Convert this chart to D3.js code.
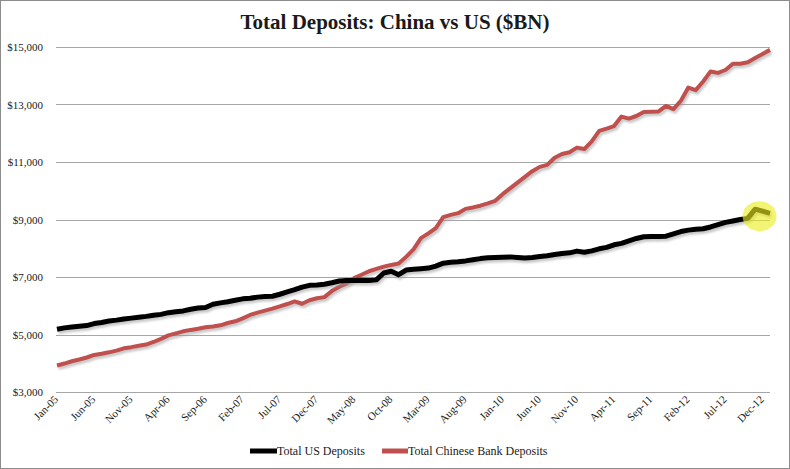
<!DOCTYPE html>
<html>
<head>
<meta charset="utf-8">
<script src="https://cdn.jsdelivr.net/npm/d3@7"></script>
<style>
  body { margin: 0; background: #fff; }
  svg text { font-family: "Liberation Serif", "DejaVu Serif", serif; fill: #1a1a1a; }
</style>
</head>
<body>
<div id="chart"></div>
<script>
// monthly data, Jan-05 .. Jan-13 ($BN)
var months = d3.timeMonths(new Date(2005, 0, 1), new Date(2013, 1, 1));

var usDeposits = [
  5180, 5230, 5260, 5290, 5310, 5380, 5420, 5470, 5500, 5540, 5570, 5600,
  5630, 5670, 5700, 5760, 5790, 5820, 5880, 5920, 5940, 6050, 6100, 6140,
  6190, 6240, 6260, 6300, 6320, 6330, 6400, 6480, 6560, 6650, 6710, 6720,
  6750, 6800, 6860, 6880, 6880, 6890, 6880, 6900, 7140, 7200, 7080, 7240,
  7270, 7290, 7310, 7380, 7480, 7510, 7530, 7560, 7600, 7640, 7670, 7680,
  7690, 7700, 7680, 7660, 7680, 7710, 7740, 7780, 7820, 7840, 7900, 7860,
  7910, 7980, 8030, 8120, 8170, 8260, 8340, 8400, 8410, 8410, 8420, 8500,
  8580, 8630, 8660, 8680, 8740, 8820, 8900, 8950, 9000, 9040, 9360, 9290,
  9210
];

var chinaDeposits = [
  3920, 3990, 4070, 4130, 4200, 4290, 4330, 4380, 4440, 4520, 4560, 4610,
  4650, 4740, 4850, 4970, 5040, 5110, 5160, 5200, 5250, 5280, 5320, 5400,
  5460, 5560, 5680, 5760, 5830, 5900, 5980, 6060, 6150, 6070, 6190, 6260,
  6300, 6510, 6660, 6780, 6960, 7080, 7200, 7280, 7360, 7420, 7470, 7700,
  7960, 8350, 8520, 8700, 9080, 9160, 9220, 9370, 9420, 9480, 9560, 9650,
  9880, 10080, 10280, 10480, 10680, 10830, 10900, 11150, 11280, 11340, 11500, 11450,
  11720, 12080, 12160, 12250, 12580, 12510, 12600, 12740, 12750, 12760, 12950, 12840,
  13130, 13590, 13500, 13800, 14150, 14100, 14200, 14420, 14420, 14470, 14620, 14760,
  14900
];

var yTicks = [3000, 5000, 7000, 9000, 11000, 13000, 15000];
// a label every 5 months
var xTickIdx = d3.range(0, 96, 5);
var seriesNames = ["Total US Deposits", "Total Chinese Bank Deposits"];
var seriesColors = ["#000000", "#c0504d"];

var width = 790;
var height = 469;

var svg = d3.select("#chart").append("svg")
    .attr("width", width)
    .attr("height", height);

// frame
svg.append("rect")
    .attr("x", 0.5).attr("y", 0.5)
    .attr("width", width - 1).attr("height", height - 1)
    .attr("fill", "#fff")
    .attr("stroke", "#8c8c8c");

svg.append("text")
    .attr("x", 395)
    .attr("y", 29)
    .attr("text-anchor", "middle")
    .style("font-size", "21px")
    .style("font-weight", "bold")
    .text("Total Deposits: China vs US ($BN)");

var x = d3.scaleLinear()
    .domain([0, months.length - 1])
    .range([57, 770]);
var y = d3.scaleLinear()
    .domain([3000, 15000])
    .range([392, 47]);

// gridlines
svg.append("g").selectAll("line")
    .data(yTicks)
    .enter().append("line")
      .attr("x1", 56).attr("x2", 770)
      .attr("y1", function(d){ return Math.round(y(d)) + 0.5; })
      .attr("y2", function(d){ return Math.round(y(d)) + 0.5; })
      .attr("stroke", "#a6a6a6")
      .attr("stroke-width", 1.2);

// y labels
var fmt = d3.format(",");
svg.append("g").selectAll("text")
    .data(yTicks)
    .enter().append("text")
      .attr("x", 43)
      .attr("y", function(d){ return y(d) + 4; })
      .attr("text-anchor", "end")
      .style("font-size", "11px")
      .text(function(d){ return "$" + fmt(d); });

// x labels, rotated
var monFmt = d3.timeFormat("%b-%y");
svg.append("g").selectAll("text")
    .data(xTickIdx)
    .enter().append("text")
      .attr("transform", function(d){ return "translate(" + (x(d) + 2) + ",400) rotate(-45)"; })
      .attr("text-anchor", "end")
      .style("font-size", "11px")
      .text(function(d){ return monFmt(months[d]); });

// shadow blur
var defs = svg.append("defs");
defs.append("filter").attr("id", "soft")
    .append("feGaussianBlur").attr("stdDeviation", 1.2);

var line = d3.line()
    .x(function(d, i){ return x(i); })
    .y(function(d){ return y(d); });

var series = [usDeposits, chinaDeposits];
var widths = [5, 4];

// draw china first so US sits on top where they cross
[1, 0].forEach(function(k){
  svg.append("path")
      .attr("d", line(series[k]))
      .attr("fill", "none")
      .attr("stroke", "#9a9a9a")
      .attr("stroke-opacity", 0.55)
      .attr("stroke-width", widths[k])
      .attr("filter", "url(#soft)")
      .attr("transform", "translate(1.5,2.5)");
  svg.append("path")
      .attr("d", line(series[k]))
      .attr("fill", "none")
      .attr("stroke", seriesColors[k])
      .attr("stroke-width", widths[k])
      .attr("stroke-linejoin", "round");
});

// highlight on the last US readings
var last = usDeposits.length - 2;
svg.append("ellipse")
    .attr("cx", x(last) - 3)
    .attr("cy", y(usDeposits[last]) + 5)
    .attr("rx", 17)
    .attr("ry", 15)
    .attr("fill", "#ecec1e")
    .attr("fill-opacity", 0.62);

// legend
var legX = [250, 382];
var legText = [277, 408];
seriesNames.forEach(function(name, k){
  svg.append("line")
      .attr("x1", legX[k]).attr("x2", legText[k])
      .attr("y1", 451).attr("y2", 451)
      .attr("stroke", seriesColors[k])
      .attr("stroke-width", 5);
  svg.append("text")
      .attr("x", legText[k])
      .attr("y", 455)
      .style("font-size", "12px")
      .text(name);
});
</script>
</body>
</html>
